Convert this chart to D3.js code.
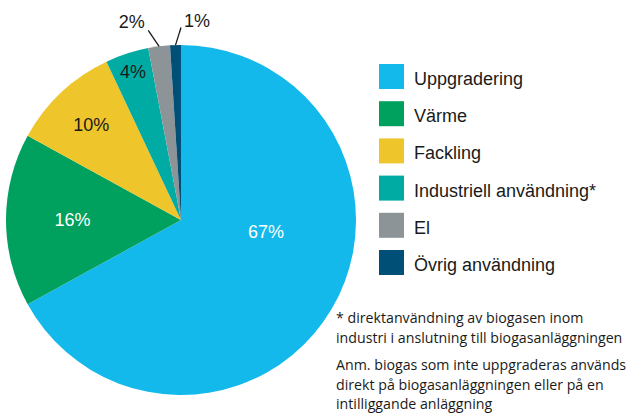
<!DOCTYPE html>
<html>
<head>
<meta charset="utf-8">
<script src="https://cdn.jsdelivr.net/npm/d3@7"></script>
<style>
  body { margin: 0; background: #fff; }
  svg { display: block; }
</style>
</head>
<body>
<script>
// data
var categories = ['Uppgradering', 'Värme', 'Fackling', 'Industriell användning*', 'El', 'Övrig användning'];
var shares = [67, 16, 10, 4, 2, 1];
var labels = ['67%', '16%', '10%', '4%', '2%', '1%'];
var notes = [
  ['* direktanvändning av biogasen inom', 'industri i anslutning till biogasanläggningen'],
  ['Anm. biogas som inte uppgraderas används', 'direkt på biogasanläggningen eller på en', 'intilliggande anläggning']
];

var colors = ['#14b9eb', '#00a15e', '#eec52a', '#00aba3', '#8c9498', '#004f76'];
// label placement: radius factor, angle shift (deg), text colour, leader line for the small ones
var labelStyle = [
  { k: 0.49, shift: -23, fill: '#fff' },
  { k: 0.62, shift: 0, fill: '#fff' },
  { k: 0.75, shift: 0, fill: '#1a1a1a' },
  { k: 0.89, shift: 0, fill: '#1a1a1a' },
  { k: 1.17, shift: -6.7, fill: '#1a1a1a', outside: true, lineShift: -2.6 },
  { k: 1.145, shift: 6.4, fill: '#1a1a1a', outside: true, lineShift: 1.8 }
];

var scr = { w: 635, h: 415 };
var pieC = { x: 181, y: 220, r: 175 };

var svg = d3.select('body')
            .append('svg')
            .attr('width', scr.w)
            .attr('height', scr.h);

var pie = d3.pie().sort(null).value(function(d){ return d; });
var arcs = pie(shares);
var arc = d3.arc().innerRadius(0).outerRadius(pieC.r);

var color = d3.scaleOrdinal().domain(categories).range(colors);

var g = svg.append('g')
           .attr('transform', 'translate(' + pieC.x + ',' + pieC.y + ')');

g.selectAll('path')
 .data(arcs)
 .enter()
 .append('path')
 .attr('d', arc)
 .attr('fill', function(d, i){ return color(categories[i]); });

function polar(a, rad){ // a in radians, clockwise from top
  return [rad * Math.sin(a), -rad * Math.cos(a)];
}
var deg = Math.PI / 180;

arcs.forEach(function(d, i){
  var s = labelStyle[i];
  var mid = (d.startAngle + d.endAngle) / 2;
  var p = polar(mid + s.shift * deg, pieC.r * s.k);
  if (s.outside) {
    var p0 = polar(mid, pieC.r);
    var p1 = polar(mid + s.lineShift * deg, pieC.r * 1.1);
    g.append('line')
     .attr('x1', p0[0]).attr('y1', p0[1])
     .attr('x2', p1[0]).attr('y2', p1[1])
     .attr('stroke', '#1a1a1a')
     .attr('stroke-width', 1.3);
  }
  g.append('text')
   .attr('x', p[0])
   .attr('y', p[1])
   .attr('dy', '0.36em')
   .attr('text-anchor', 'middle')
   .attr('font-family', 'Liberation Sans, Arial, sans-serif')
   .attr('font-size', 18)
   .attr('fill', s.fill)
   .text(labels[i]);
});

// legend
var legend = svg.append('g')
                .attr('transform', 'translate(379,64)');
var rows = legend.selectAll('g')
                 .data(categories)
                 .enter()
                 .append('g')
                 .attr('transform', function(d, i){ return 'translate(0,' + (i * 37.2) + ')'; });
rows.append('rect')
    .attr('width', 25)
    .attr('height', 25)
    .attr('fill', function(d){ return color(d); });
rows.append('text')
    .attr('x', 35)
    .attr('y', 21)
    .attr('font-family', 'Liberation Sans, Arial, sans-serif')
    .attr('font-size', 18)
    .attr('fill', '#1a1a1a')
    .text(function(d){ return d; });

// footnotes
var noteY = [323, 370];
notes.forEach(function(block, b){
  block.forEach(function(line, j){
    svg.append('text')
       .attr('x', 336)
       .attr('y', noteY[b] + j * 19.5)
       .attr('font-family', 'Open Sans, sans-serif')
       .attr('font-size', 14.2)
       .attr('fill', '#1a1a1a')
       .text(line);
  });
});
</script>
</body>
</html>
